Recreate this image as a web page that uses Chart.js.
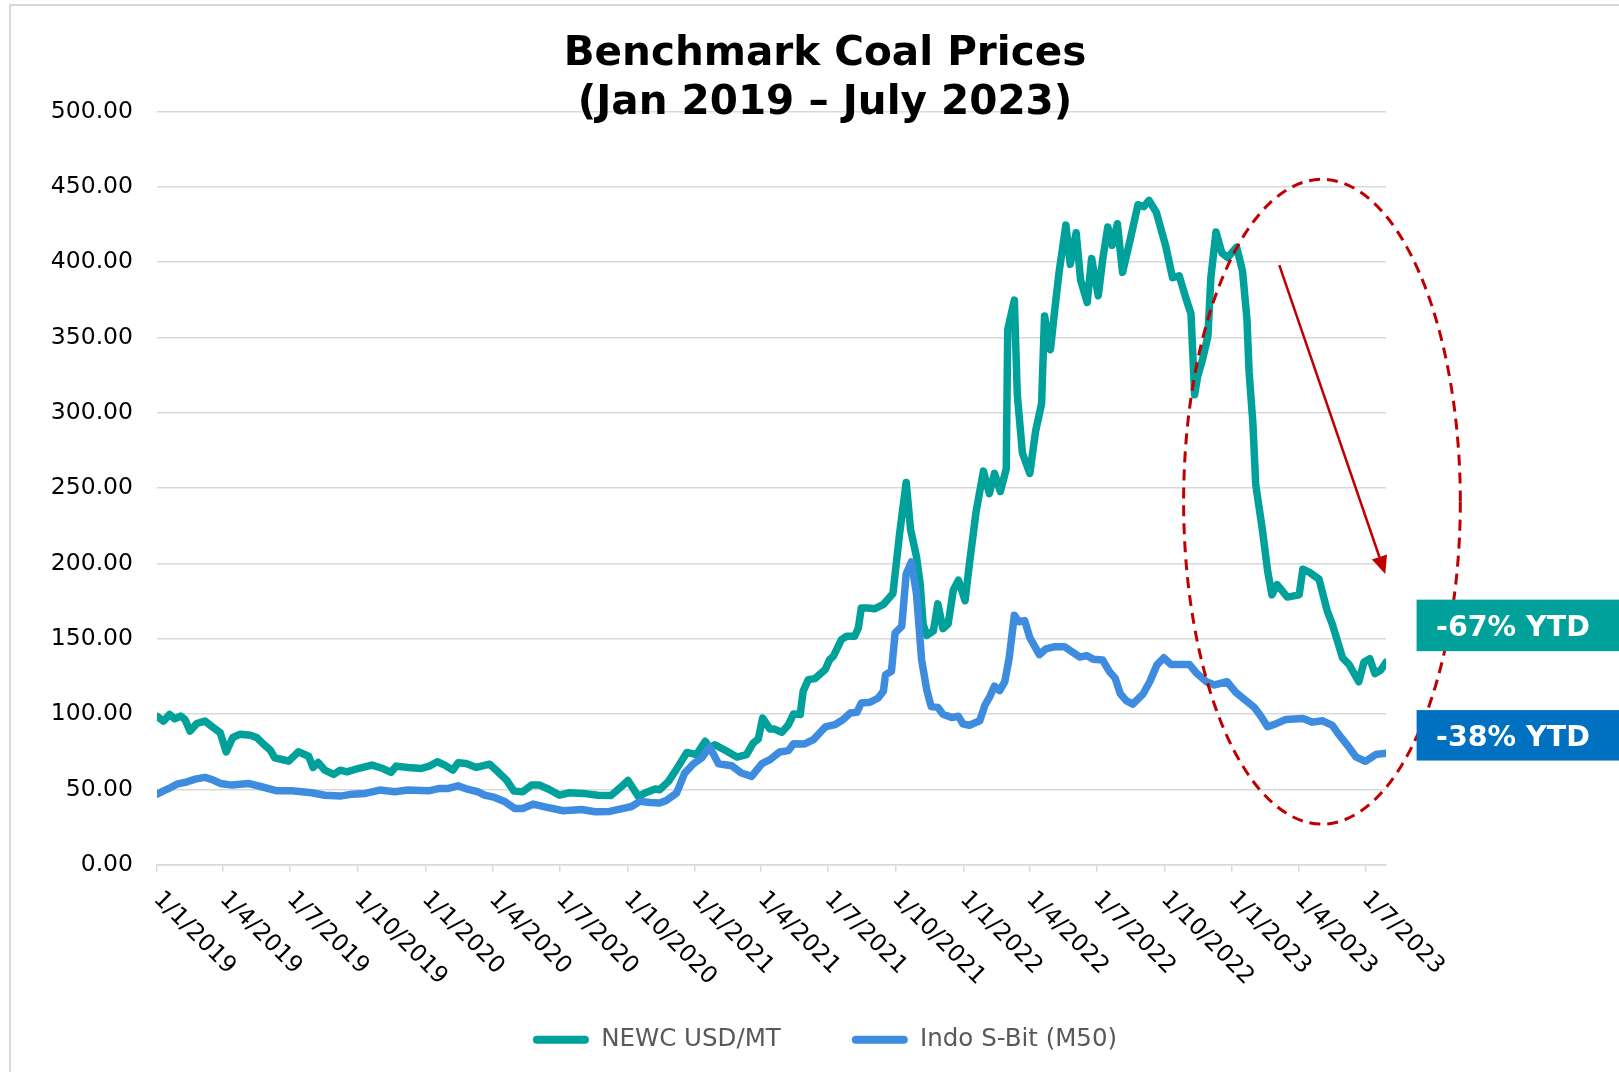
<!DOCTYPE html>
<html><head><meta charset="utf-8">
<script src="https://cdn.jsdelivr.net/npm/chart.js@4.4.0/dist/chart.umd.min.js"></script>
<style>
html,body{margin:0;padding:0;background:#fff;overflow:hidden;width:1619px;height:1072px;}
#frame{position:absolute;left:9px;top:4px;width:1628px;height:1080px;border-left:2px solid #d9d9d9;border-top:2px solid #d9d9d9;}
canvas{display:block;}
</style></head><body>
<div id="frame"><canvas id="c" width="1628" height="1080"></canvas></div>
<script>
const titleLines = ['Benchmark Coal Prices', '(Jan 2019 \u2013 July 2023)'];
const seriesNames = ['NEWC USD/MT', 'Indo S-Bit (M50)'];

const newcDates = ['2019-01-01','2019-01-10','2019-01-18','2019-01-25','2019-02-02','2019-02-08','2019-02-15','2019-02-24','2019-03-07','2019-03-17','2019-03-28','2019-04-05','2019-04-14','2019-04-24','2019-05-08','2019-05-17','2019-05-26','2019-06-04','2019-06-10','2019-06-20','2019-06-29','2019-07-12','2019-07-26','2019-08-01','2019-08-08','2019-08-17','2019-08-29','2019-09-07','2019-09-16','2019-10-01','2019-10-20','2019-11-04','2019-11-15','2019-11-22','2019-12-08','2019-12-26','2020-01-07','2020-01-17','2020-01-27','2020-02-07','2020-02-14','2020-02-25','2020-03-10','2020-03-28','2020-04-06','2020-04-20','2020-04-30','2020-05-12','2020-05-24','2020-06-04','2020-06-17','2020-07-01','2020-07-14','2020-08-02','2020-08-22','2020-09-09','2020-09-21','2020-10-02','2020-10-16','2020-10-25','2020-11-08','2020-11-14','2020-11-26','2020-12-05','2020-12-21','2021-01-03','2021-01-15','2021-01-21','2021-01-28','2021-02-11','2021-02-27','2021-03-12','2021-03-21','2021-03-28','2021-04-03','2021-04-13','2021-04-19','2021-04-29','2021-05-08','2021-05-15','2021-05-24','2021-05-28','2021-06-04','2021-06-13','2021-06-27','2021-07-03','2021-07-08','2021-07-19','2021-07-26','2021-08-06','2021-08-11','2021-08-15','2021-08-24','2021-09-02','2021-09-14','2021-09-27','2021-10-06','2021-10-15','2021-10-21','2021-10-29','2021-11-03','2021-11-07','2021-11-12','2021-11-21','2021-11-27','2021-12-04','2021-12-11','2021-12-18','2021-12-25','2022-01-03','2022-01-09','2022-01-18','2022-01-28','2022-02-05','2022-02-12','2022-02-20','2022-02-28','2022-03-02','2022-03-11','2022-03-15','2022-03-22','2022-04-01','2022-04-09','2022-04-17','2022-04-21','2022-04-29','2022-05-05','2022-05-11','2022-05-20','2022-05-26','2022-06-03','2022-06-09','2022-06-18','2022-06-24','2022-07-03','2022-07-09','2022-07-16','2022-07-22','2022-07-29','2022-08-05','2022-08-15','2022-08-26','2022-09-03','2022-09-10','2022-09-20','2022-10-03','2022-10-12','2022-10-21','2022-10-30','2022-11-06','2022-11-11','2022-11-15','2022-11-22','2022-11-29','2022-12-03','2022-12-10','2022-12-18','2022-12-26','2023-01-07','2023-01-15','2023-01-21','2023-01-24','2023-01-29','2023-02-02','2023-02-11','2023-02-18','2023-02-24','2023-03-03','2023-03-17','2023-04-02','2023-04-07','2023-04-16','2023-04-29','2023-05-10','2023-05-17','2023-05-31','2023-06-09','2023-06-22','2023-06-29','2023-07-07','2023-07-14','2023-07-22','2023-07-29'];
const newcValues = [98.5,95.4,99.8,96.9,98.7,96.5,88.7,93.8,95.4,91.6,87.6,75.0,84.5,86.7,86.0,84.3,79.9,76.1,71.0,69.9,68.8,75.0,72.1,64.6,67.9,62.8,60.0,62.8,61.7,63.9,66.2,63.9,61.3,65.5,64.6,63.9,65.7,68.4,66.2,62.8,67.7,67.2,64.6,66.8,62.8,56.2,48.9,48.5,52.9,52.9,50.0,46.2,47.8,47.4,46.2,46.0,51.0,56.0,45.4,47.6,50.3,49.8,55.4,62.0,74.6,73.1,82.0,77.5,79.7,76.0,71.5,73.1,80.8,83.5,97.4,90.1,90.1,87.9,93.0,100.1,99.7,115.2,122.9,123.6,129.6,136.2,138.4,149.5,151.7,151.7,157.2,170.5,170.5,169.9,172.8,180.1,219.5,253.8,222.5,204.5,186.6,159.8,152.3,155.3,173.2,156.8,159.8,182.2,189.0,175.3,200.1,234.4,261.3,246.4,259.8,247.8,262.8,355.3,374.8,312.0,273.2,259.8,288.2,306.1,364.3,341.9,368.8,394.2,424.6,398.6,419.5,388.2,373.3,402.5,377.7,401.6,423.4,411.2,425.5,393.3,414.2,438.1,436.9,441.0,433.0,410.0,389.7,391.0,376.2,365.8,312.0,324.0,335.9,350.9,389.7,420.1,406.1,403.1,410.0,394.2,362.8,327.0,294.1,252.3,222.5,195.6,179.2,186.0,177.7,179.2,196.2,194.1,189.6,168.7,159.8,137.4,132.9,121.5,134.4,136.8,126.9,129.3,134.4];

const indoDates = ['2019-01-01','2019-01-12','2019-01-19','2019-01-28','2019-02-11','2019-02-22','2019-03-07','2019-03-17','2019-03-28','2019-04-13','2019-05-05','2019-05-23','2019-06-13','2019-07-03','2019-07-30','2019-08-17','2019-09-07','2019-09-23','2019-10-11','2019-10-31','2019-11-20','2019-12-08','2020-01-05','2020-01-20','2020-02-01','2020-02-14','2020-02-28','2020-03-12','2020-03-21','2020-04-04','2020-04-18','2020-05-01','2020-05-12','2020-05-26','2020-06-11','2020-07-06','2020-07-31','2020-08-18','2020-09-07','2020-09-21','2020-10-07','2020-10-18','2020-11-01','2020-11-14','2020-11-23','2020-12-07','2020-12-18','2020-12-30','2021-01-10','2021-01-21','2021-02-02','2021-02-20','2021-03-05','2021-03-19','2021-04-02','2021-04-13','2021-04-26','2021-05-08','2021-05-15','2021-05-30','2021-06-11','2021-06-27','2021-07-10','2021-07-21','2021-07-31','2021-08-09','2021-08-15','2021-08-27','2021-09-07','2021-09-14','2021-09-17','2021-09-25','2021-09-30','2021-10-09','2021-10-15','2021-10-22','2021-10-29','2021-11-05','2021-11-12','2021-11-18','2021-11-27','2021-12-04','2021-12-16','2021-12-25','2021-12-31','2022-01-09','2022-01-23','2022-01-30','2022-02-06','2022-02-12','2022-02-19','2022-02-26','2022-03-04','2022-03-11','2022-03-17','2022-03-25','2022-04-01','2022-04-14','2022-04-23','2022-05-05','2022-05-18','2022-05-27','2022-06-08','2022-06-17','2022-06-26','2022-07-09','2022-07-18','2022-07-26','2022-08-02','2022-08-10','2022-08-19','2022-09-02','2022-09-11','2022-09-21','2022-09-30','2022-10-10','2022-11-04','2022-11-13','2022-11-27','2022-12-08','2022-12-25','2023-01-06','2023-01-18','2023-01-31','2023-02-09','2023-02-18','2023-03-01','2023-03-15','2023-04-07','2023-04-20','2023-05-04','2023-05-17','2023-05-27','2023-06-07','2023-06-18','2023-07-01','2023-07-15','2023-07-29'];
const indoValues = [46.9,49.6,51.1,53.5,55.1,56.9,58.0,56.6,54.0,52.9,54.0,51.8,49.1,49.1,47.8,46.2,45.6,46.9,47.4,49.6,48.5,49.6,49.1,50.7,50.7,52.4,50.0,48.5,46.2,44.7,41.8,37.4,37.4,40.3,38.5,35.9,36.7,35.2,35.4,37.0,38.7,42.1,41.4,41.0,42.7,47.6,60.9,67.1,70.9,78.2,67.1,65.8,60.9,58.7,67.1,69.8,74.9,75.8,80.4,80.2,83.1,91.5,93.0,96.3,100.8,101.2,107.4,107.9,110.7,115.2,126.2,128.5,153.9,158.3,193.0,201.0,180.0,136.0,116.0,105.0,104.5,100.0,97.7,98.6,93.5,92.6,95.6,106.0,112.0,118.6,115.6,121.5,137.4,165.7,161.3,162.1,150.8,139.5,143.3,144.8,144.8,141.8,137.9,138.9,136.5,135.9,128.4,123.9,113.5,109.0,106.6,113.5,121.5,132.9,137.4,132.9,132.9,127.5,121.5,119.4,121.5,114.4,109.6,104.5,98.6,91.7,93.5,96.5,97.1,94.7,95.6,92.6,85.7,79.1,71.7,68.7,73.2,74.1];

const tickDates = ['2019-01-01','2019-04-01','2019-07-01','2019-10-01','2020-01-01','2020-04-01','2020-07-01','2020-10-01','2021-01-01','2021-04-01','2021-07-01','2021-10-01','2022-01-01','2022-04-01','2022-07-01','2022-10-01','2023-01-01','2023-04-01','2023-07-01'];
const tickLabels = ['1/1/2019','1/4/2019','1/7/2019','1/10/2019','1/1/2020','1/4/2020','1/7/2020','1/10/2020','1/1/2021','1/4/2021','1/7/2021','1/10/2021','1/1/2022','1/4/2022','1/7/2022','1/10/2022','1/1/2023','1/4/2023','1/7/2023'];

const ytdTexts = ['-67% YTD', '-38% YTD'];
const ytdTop = [176.0, 102.7];
const ytdBottom = [141.8, 69.2];
const ytdColors = ['#00A19A', '#0070C0'];

const ellipseCenter = ['2023-05-03', 241];
const ellipseHalfDays = 188;
const ellipseHalfValue = 214;
const arrowFrom = ['2023-03-06', 398];
const arrowTo = ['2023-07-28', 193];

const colors = ['#00A19A', '#3E8CDF'];

const T0 = Date.UTC(2019, 0, 1);
const toDay = s => (Date.parse(s) - T0) / 86400000;
const FONT = 'DejaVu Sans';

const annot = {
  id: 'annot',
  afterDatasetsDraw(chart) {
    const {ctx, scales: {x, y}} = chart;
    ctx.save();
    const cx = x.getPixelForValue(toDay(ellipseCenter[0]));
    const cy = y.getPixelForValue(ellipseCenter[1]);
    const rx = x.getPixelForValue(toDay(ellipseCenter[0]) + ellipseHalfDays) - cx;
    const ry = cy - y.getPixelForValue(ellipseCenter[1] + ellipseHalfValue);
    ctx.strokeStyle = '#C00000';
    ctx.lineWidth = 3;
    ctx.setLineDash([11, 7]);
    ctx.beginPath();
    ctx.ellipse(cx, cy, rx, ry, 0, 0, Math.PI * 2);
    ctx.stroke();
    ctx.setLineDash([]);
    const x0 = x.getPixelForValue(toDay(arrowFrom[0])), y0 = y.getPixelForValue(arrowFrom[1]);
    const x1 = x.getPixelForValue(toDay(arrowTo[0])), y1 = y.getPixelForValue(arrowTo[1]);
    const ang = Math.atan2(y1 - y0, x1 - x0);
    const hl = 18, hw = 8;
    const bx = x1 - hl * Math.cos(ang), by = y1 - hl * Math.sin(ang);
    ctx.lineWidth = 2.5;
    ctx.beginPath(); ctx.moveTo(x0, y0); ctx.lineTo(bx, by); ctx.stroke();
    ctx.fillStyle = '#C00000';
    ctx.beginPath();
    ctx.moveTo(x1, y1);
    ctx.lineTo(bx + hw * Math.sin(ang), by - hw * Math.cos(ang));
    ctx.lineTo(bx - hw * Math.sin(ang), by + hw * Math.cos(ang));
    ctx.closePath(); ctx.fill();
    ctx.restore();
  },
  afterDraw(chart) {
    const {ctx, scales: {y}, chartArea} = chart;
    ctx.save();
    ytdTexts.forEach((t, i) => {
      const top = y.getPixelForValue(ytdTop[i]);
      const bot = y.getPixelForValue(ytdBottom[i]);
      const left = chartArea.right + 30.6;
      ctx.fillStyle = ytdColors[i];
      ctx.fillRect(left, top, 300, bot - top);
      ctx.fillStyle = '#ffffff';
      ctx.font = 'bold 28.5px "' + FONT + '"';
      ctx.textAlign = 'left';
      ctx.textBaseline = 'middle';
      ctx.fillText(t, left + 19.5, (top + bot) / 2 + 3);
    });
    ctx.restore();
  }
};

Chart.defaults.font.family = FONT;

new Chart(document.getElementById('c'), {
  type: 'line',
  data: {
    datasets: [
      {
        label: seriesNames[0],
        data: newcDates.map((d, i) => ({x: toDay(d), y: newcValues[i]})),
        borderColor: colors[0], backgroundColor: colors[0],
        borderWidth: 7.5, pointRadius: 0, fill: false, tension: 0,
        borderJoinStyle: 'round', borderCapStyle: 'round', order: 1
      },
      {
        label: seriesNames[1],
        data: indoDates.map((d, i) => ({x: toDay(d), y: indoValues[i]})),
        borderColor: colors[1], backgroundColor: colors[1],
        borderWidth: 7.5, pointRadius: 0, fill: false, tension: 0,
        borderJoinStyle: 'round', borderCapStyle: 'round', order: 0
      }
    ]
  },
  options: {
    responsive: false,
    animation: false,
    devicePixelRatio: 1,
    layout: {padding: {left: 0, right: 0, top: 0, bottom: 24}},
    plugins: {
      tooltip: {enabled: false},
      title: {
        display: true,
        text: titleLines,
        color: '#000000',
        font: {family: FONT, size: 40.5, weight: 'bold', lineHeight: 1.225},
        padding: {top: 23.4, bottom: -17.1}
      },
      legend: {
        position: 'bottom',
        labels: {
          font: {family: FONT, size: 24.5},
          color: '#595959',
          boxWidth: 56,
          boxHeight: 8,
          padding: 71,
          useBorderRadius: true,
          borderRadius: 4,
          sort: (a, b) => a.datasetIndex - b.datasetIndex,
          generateLabels: chart => Chart.defaults.plugins.legend.labels.generateLabels(chart).map(it => Object.assign(it, {lineWidth: 0}))
        }
      }
    },
    scales: {
      x: {
        type: 'linear',
        min: 0,
        max: toDay(newcDates[newcDates.length - 1]),
        afterBuildTicks: s => { s.ticks = tickDates.map(d => ({value: toDay(d)})); },
        afterCalculateLabelRotation: s => {
          s.labelRotation = -45;
          s._getXAxisLabelAlignment = () => 'left';
          s._computeLabelArea = () => undefined;
        },
        afterFit: s => { s.height = 91.7; },
        ticks: {
          autoSkip: false, minRotation: 0, maxRotation: 0, padding: 14,
          color: '#000000',
          font: {family: FONT, size: 23.5},
          callback: (v, i) => tickLabels[i]
        },
        grid: {drawOnChartArea: false, drawTicks: true, tickLength: 7, color: '#d9d9d9', lineWidth: 1.5},
        border: {display: true, color: '#d9d9d9', width: 1.5}
      },
      y: {
        min: 0, max: 500,
        afterFit: s => { s.width = 146; },
        ticks: {
          stepSize: 50, padding: 24,
          color: '#000000',
          font: {family: FONT, size: 23.5},
          callback: v => Number(v).toFixed(2)
        },
        grid: {color: '#d9d9d9', lineWidth: 1.5, drawTicks: false},
        border: {display: false}
      },
      yRight: {
        position: 'right',
        min: 0, max: 1,
        afterFit: s => { s.width = 253; },
        ticks: {display: false},
        grid: {display: false, drawTicks: false},
        border: {display: false}
      }
    }
  },
  plugins: [annot]
});
</script>
</body></html>
